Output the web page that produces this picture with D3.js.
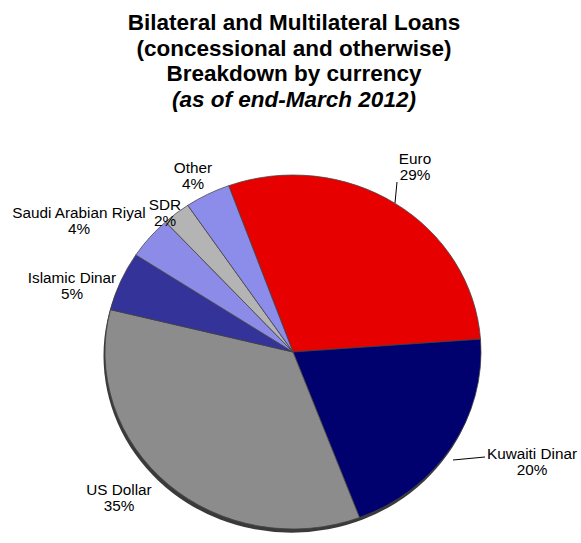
<!DOCTYPE html>
<html><head><meta charset="utf-8">
<script src="https://cdn.jsdelivr.net/npm/d3@7/dist/d3.min.js"></script>
<style>body{margin:0;background:#fff}svg{display:block}</style>
</head><body>
<svg id="chart" width="581" height="543"></svg>
<script>
const categories = ["Euro","Kuwaiti Dinar","US Dollar","Islamic Dinar","Saudi Arabian Riyal","SDR","Other"];
const values = [29.4,20.4,34.6,5.4,3.9,2.4,3.9];
const colors = ["#e60000","#00006e","#8c8c8c","#333399","#8c8ce8","#b4b4b4","#8c8ceb"];
const titleLines = ["Bilateral and Multilateral Loans","(concessional and otherwise)","Breakdown by currency","(as of end-March 2012)"];
// label anchor positions (centered text)
const labelPos = [[415,164],[532,459],[119,495],[72,283],[79,218],[165,210],[193,173]];

const svg = d3.select("#chart");
const cx = 293, cy = 352, rx = 188, ry = 177;
const font = "'Liberation Sans', Arial, sans-serif";

// title
const tg = svg.append("g").attr("font-family", font).attr("text-anchor","middle").attr("font-weight","bold").attr("font-size","22.5px").attr("fill","#000");
titleLines.forEach((t,i)=>{
  tg.append("text").attr("x",294).attr("y",30+i*25.5).attr("font-style", i===3?"italic":"normal").text(t);
});

const total = d3.sum(values);
const startA = -20*Math.PI/180;
const pie = d3.pie().sort(null).value(d=>d).startAngle(startA).endAngle(startA+2*Math.PI);
const arcs = pie(values);
const arc = d3.arc().innerRadius(0).outerRadius(rx);

const g = svg.append("g").attr("transform",`translate(${cx},${cy}) scale(1,${ry/rx})`);
// shadow
g.append("circle").attr("cx",-1.5).attr("cy",4).attr("r",rx).attr("fill","#3a3a3a");
g.selectAll("path.slice").data(arcs).enter().append("path")
  .attr("class","slice")
  .attr("d",arc)
  .attr("fill",(d,i)=>colors[i])
  .attr("stroke","#444").attr("stroke-width",0.8);

// leader lines
svg.append("line").attr("x1",395).attr("y1",203).attr("x2",397).attr("y2",182).attr("stroke","#000").attr("stroke-width",1);
svg.append("line").attr("x1",453).attr("y1",460).attr("x2",485).attr("y2",457).attr("stroke","#000").attr("stroke-width",1);

// labels
const lg = svg.append("g").attr("font-family",font).attr("font-size","15.3px").attr("text-anchor","middle").attr("fill","#000");
arcs.forEach((d,i)=>{
  const [x,y] = labelPos[i];
  const t = lg.append("text").attr("x",x).attr("y",y);
  t.append("tspan").attr("x",x).attr("dy",0).text(categories[i]);
  t.append("tspan").attr("x",x).attr("dy",16).text(Math.round(values[i]/total*100)+"%");
});
</script>
</body></html>
